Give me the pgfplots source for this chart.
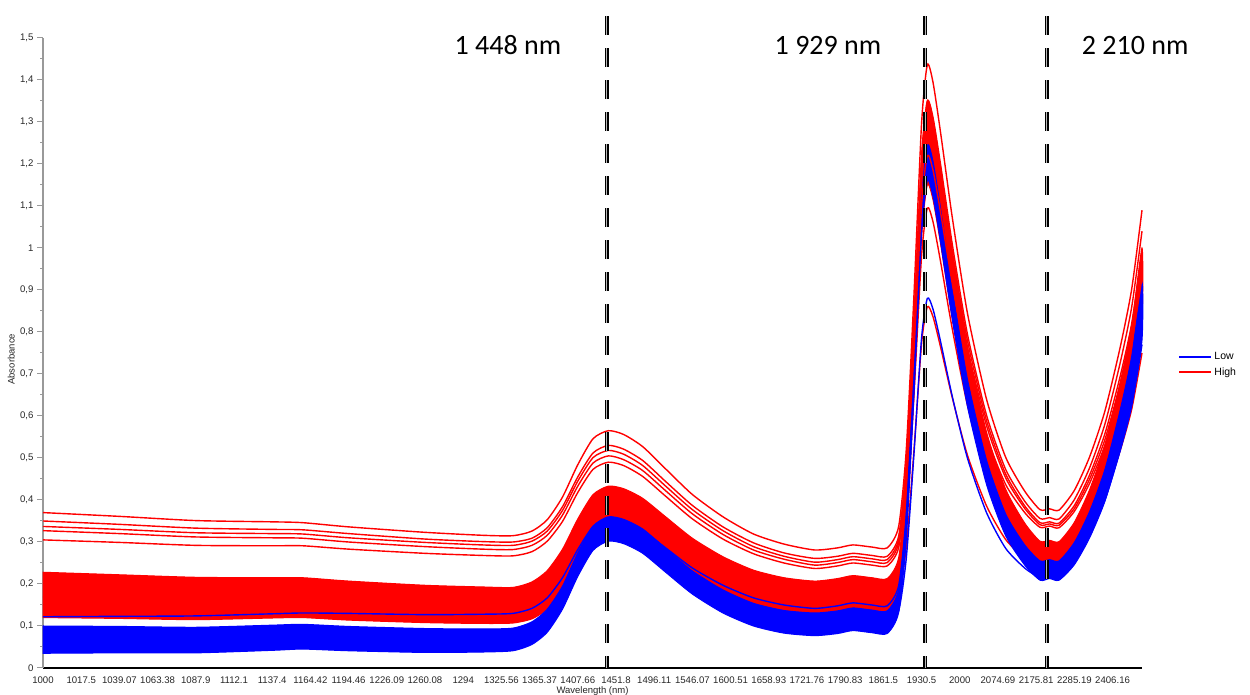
\documentclass[border=0pt]{standalone}
\usepackage{fontspec}
\setmainfont{Liberation Sans}
\newfontfamily\calibri{Carlito}
\usepackage{pgfplots}
\usepackage{pgfplotstable}
\pgfplotsset{compat=1.18}

\pgfplotstableread{
x R1 R2 R3 R4 R5 R6 R7 B1 B2
0 0.370 0.350 0.337 0.327 0.305 0.150 0.170 0.122 0.060
2 0.361 0.342 0.330 0.320 0.299 0.148 0.167 0.123 0.060
4 0.351 0.333 0.322 0.312 0.292 0.145 0.163 0.124 0.060
6 0.348 0.330 0.320 0.310 0.291 0.149 0.166 0.129 0.066
6.8 0.346 0.329 0.319 0.309 0.291 0.150 0.167 0.131 0.068
8 0.336 0.320 0.310 0.300 0.283 0.144 0.161 0.130 0.064
10 0.323 0.307 0.299 0.289 0.273 0.138 0.154 0.127 0.060
11.5 0.316 0.301 0.293 0.283 0.268 0.136 0.151 0.128 0.060
12.3 0.315 0.300 0.292 0.282 0.267 0.137 0.152 0.130 0.063
12.8 0.326 0.309 0.302 0.292 0.277 0.148 0.164 0.142 0.077
13.2 0.353 0.334 0.326 0.316 0.302 0.171 0.189 0.167 0.106
13.6 0.407 0.384 0.375 0.364 0.349 0.217 0.237 0.215 0.160
14.0 0.484 0.455 0.445 0.433 0.418 0.281 0.306 0.282 0.237
14.4 0.546 0.512 0.501 0.488 0.473 0.333 0.362 0.337 0.299
14.8 0.565 0.530 0.518 0.505 0.490 0.350 0.380 0.355 0.320
15.2 0.556 0.521 0.509 0.496 0.482 0.343 0.373 0.349 0.314
15.7 0.527 0.494 0.482 0.470 0.456 0.321 0.350 0.327 0.291
16.3 0.474 0.444 0.433 0.422 0.409 0.280 0.306 0.286 0.246
17.0 0.413 0.387 0.377 0.367 0.355 0.232 0.256 0.238 0.193
17.8 0.360 0.336 0.327 0.318 0.307 0.190 0.212 0.197 0.149
18.6 0.319 0.298 0.289 0.281 0.272 0.159 0.180 0.167 0.117
19.4 0.295 0.274 0.266 0.259 0.250 0.141 0.162 0.150 0.100
20.2 0.281 0.261 0.252 0.245 0.237 0.132 0.152 0.142 0.093
20.8 0.286 0.266 0.258 0.251 0.243 0.138 0.158 0.148 0.098
21.2 0.293 0.273 0.265 0.258 0.250 0.145 0.165 0.155 0.105
21.7 0.288 0.268 0.260 0.253 0.245 0.140 0.160 0.150 0.100
22.1 0.286 0.266 0.258 0.251 0.243 0.138 0.158 0.148 0.098
22.4 0.337 0.314 0.306 0.298 0.287 0.173 0.201 0.196 0.136
22.6 0.521 0.488 0.478 0.466 0.444 0.289 0.352 0.365 0.262
22.8 0.887 0.833 0.818 0.799 0.754 0.517 0.649 0.698 0.509
23.0 1.297 1.219 1.201 1.174 1.102 0.773 0.982 1.073 0.786
23.15 1.436 1.350 1.330 1.300 1.220 0.860 1.095 1.200 0.880
23.3 1.394 1.310 1.291 1.262 1.185 0.836 1.062 1.162 0.854
23.5 1.273 1.197 1.178 1.152 1.083 0.763 0.966 1.053 0.776
23.8 1.075 1.011 0.994 0.972 0.917 0.645 0.809 0.874 0.648
24.2 0.845 0.795 0.780 0.764 0.724 0.507 0.626 0.667 0.500
24.7 0.640 0.602 0.589 0.577 0.552 0.386 0.464 0.482 0.370
25.2 0.502 0.473 0.462 0.453 0.437 0.306 0.357 0.359 0.285
25.7 0.421 0.397 0.386 0.380 0.370 0.262 0.295 0.288 0.238
26.1 0.377 0.356 0.346 0.341 0.335 0.240 0.263 0.250 0.215
26.35 0.379 0.358 0.348 0.343 0.338 0.247 0.268 0.253 0.222
26.6 0.376 0.355 0.345 0.340 0.334 0.243 0.264 0.250 0.218
27.0 0.423 0.401 0.387 0.380 0.373 0.276 0.305 0.291 0.255
27.4 0.503 0.477 0.460 0.450 0.440 0.333 0.374 0.362 0.316
27.8 0.612 0.581 0.558 0.544 0.531 0.410 0.468 0.458 0.400
28.2 0.764 0.727 0.695 0.677 0.658 0.518 0.599 0.592 0.518
28.5 0.902 0.859 0.820 0.796 0.773 0.616 0.718 0.714 0.624
28.77 1.090 1.040 0.990 0.960 0.930 0.750 0.880 0.880 0.770
}\spectra

\begin{document}
\begin{tikzpicture}
\useasboundingbox (0,0) rectangle (1250pt,695pt);
\begin{axis}[
  at={(43pt,27pt)}, anchor=south west,
  scale only axis, width=1099pt, height=630pt,
  xmin=0, xmax=28.77, ymin=0, ymax=1.5,
  clip=false,
  axis x line*=bottom, axis y line*=left,
  x axis line style={black, line width=2.7pt},
  y axis line style={gray!80, line width=1.4pt},
  xtick={0,1,...,28},
  xticklabels={1000,1017.5,1039.07,1063.38,1087.9,1112.1,1137.4,1164.42,1194.46,1226.09,1260.08,1294,1325.56,1365.37,1407.66,1451.8,1496.11,1546.07,1600.51,1658.93,1721.76,1790.83,1861.5,1930.5,2000,2074.69,2175.81,2285.19,2406.16},
  major x tick style={draw=none},
  ytick={0,0.1,0.2,0.3,0.4,0.5,0.6,0.7,0.8,0.9,1,1.1,1.2,1.3,1.4,1.5},
  minor y tick num=1,
  y tick style={gray!80, line width=1pt},
  tick align=outside,
  major tick length=6pt, minor tick length=3pt,
  ticklabel style={font=\fontsize{9.6}{11.5}\selectfont, text=black!85},
  /pgf/number format/assume math mode=true,
  yticklabel style={/pgf/number format/.cd, fixed, precision=1, use comma},
  xticklabel style={yshift=1pt},
  xlabel={Wavelength (nm)}, ylabel={Absorbance},
  label style={font=\fontsize{9.5}{11}\selectfont, text=black!85},
  xlabel style={at={(axis description cs:0.5,-0.037)}, anchor=center},
  ylabel style={at={(axis description cs:-0.029,0.49)}, anchor=center},
  no markers,
  legend style={at={(rel axis cs:1.033,0.504)}, anchor=north west, draw=none, fill=none,
    font=\fontsize{10.5}{12}\selectfont, row sep=2pt, inner sep=0pt},
  legend cell align=left,
  legend image code/.code={\draw[#1] (0pt,0pt) -- (32pt,0pt);},
]
% red band (High)
\addplot[fill=red, draw=red, line width=1pt, smooth, tension=0.4, forget plot] coordinates {
(0,0.228)(2,0.222)(4,0.216)(6,0.215)(6.8,0.215)(8,0.207)(10,0.197)(11.5,0.193)(12.3,0.192)(12.8,0.205)(13.2,0.232)(13.6,0.283)(14,0.355)(14.4,0.413)(14.8,0.433)(15.2,0.427)(15.7,0.404)(16.3,0.360)(17,0.309)(17.8,0.265)(18.6,0.233)(19.4,0.215)(20.2,0.207)(20.8,0.213)(21.2,0.220)(21.7,0.215)(22.1,0.213)(22.4,0.263)(22.6,0.446)(22.8,0.807)(23,1.213)(23.15,1.350)(23.3,1.308)(23.5,1.189)(23.8,0.993)(24.2,0.765)(24.7,0.562)(25.2,0.426)(25.7,0.345)(26.1,0.302)(26.35,0.304)(26.6,0.301)(27,0.347)(27.4,0.425)(27.8,0.531)(28.2,0.681)(28.5,0.815)(28.77,1.000)
(28.77,0.840)(28.5,0.681)(28.2,0.565)(27.8,0.436)(27.4,0.344)(27,0.277)(26.6,0.237)(26.35,0.241)(26.1,0.236)(25.7,0.270)(25.2,0.337)(24.7,0.455)(24.2,0.633)(23.8,0.834)(23.5,1.008)(23.3,1.114)(23.15,1.150)(23,1.024)(22.8,0.654)(22.6,0.325)(22.4,0.157)(22.1,0.108)(21.7,0.110)(21.2,0.115)(20.8,0.108)(20.2,0.102)(19.4,0.111)(18.6,0.128)(17.8,0.157)(17,0.197)(16.3,0.243)(15.7,0.283)(15.2,0.304)(14.8,0.310)(14.4,0.294)(14,0.244)(13.6,0.183)(13.2,0.140)(12.8,0.117)(12.3,0.107)(11.5,0.106)(10,0.108)(8,0.114)(6.8,0.120)(6,0.119)(4,0.115)(2,0.118)(0,0.120)
} -- cycle;
\addplot[red, line width=1.4pt, smooth, tension=0.4, forget plot] table[x=x, y=R6] {\spectra};
\addplot[red, line width=1.4pt, smooth, tension=0.4, forget plot] table[x=x, y=R7] {\spectra};
% blue band (Low)
\addplot[fill=blue, draw=blue, line width=1pt, smooth, tension=0.4, forget plot] coordinates {
(0,0.100)(2,0.099)(4,0.097)(6,0.102)(6.8,0.104)(8,0.099)(10,0.094)(11.5,0.093)(12.3,0.095)(12.8,0.110)(13.2,0.140)(13.6,0.195)(14,0.274)(14.4,0.338)(14.8,0.360)(15.2,0.354)(15.7,0.331)(16.3,0.285)(17,0.231)(17.8,0.186)(18.6,0.154)(19.4,0.137)(20.2,0.131)(20.8,0.136)(21.2,0.143)(21.7,0.138)(22.1,0.136)(22.4,0.187)(22.6,0.365)(22.8,0.717)(23,1.111)(23.15,1.245)(23.3,1.206)(23.5,1.092)(23.8,0.905)(24.2,0.688)(24.7,0.495)(25.2,0.367)(25.7,0.293)(26.1,0.255)(26.35,0.258)(26.6,0.255)(27,0.299)(27.4,0.373)(27.8,0.473)(28.2,0.615)(28.5,0.742)(28.77,0.917)
(28.77,0.780)(28.5,0.629)(28.2,0.519)(27.8,0.397)(27.4,0.310)(27,0.246)(26.6,0.209)(26.35,0.213)(26.1,0.209)(25.7,0.245)(25.2,0.315)(24.7,0.437)(24.2,0.623)(23.8,0.832)(23.5,1.012)(23.3,1.122)(23.15,1.160)(23,1.030)(22.8,0.647)(22.6,0.306)(22.4,0.132)(22.1,0.082)(21.7,0.084)(21.2,0.089)(20.8,0.082)(20.2,0.077)(19.4,0.083)(18.6,0.100)(17.8,0.131)(17,0.176)(16.3,0.228)(15.7,0.273)(15.2,0.296)(14.8,0.302)(14.4,0.280)(14,0.218)(13.6,0.140)(13.2,0.085)(12.8,0.056)(12.3,0.041)(11.5,0.038)(10,0.037)(8,0.041)(6.8,0.045)(6,0.042)(4,0.036)(2,0.036)(0,0.035)
} -- cycle;
\addplot[blue, line width=1.4pt, smooth, tension=0.4, forget plot] table[x=x, y=B1] {\spectra};
\addplot[blue, line width=1.4pt, smooth, tension=0.4, forget plot] table[x=x, y=B2] {\spectra};
% upper red spectra
\addplot[red, line width=1.4pt, smooth, tension=0.4, forget plot] table[x=x, y=R5] {\spectra};
\addplot[red, line width=1.4pt, smooth, tension=0.4, forget plot] table[x=x, y=R4] {\spectra};
\addplot[red, line width=1.4pt, smooth, tension=0.4, forget plot] table[x=x, y=R3] {\spectra};
\addplot[red, line width=1.4pt, smooth, tension=0.4, forget plot] table[x=x, y=R2] {\spectra};
\addplot[red, line width=1.4pt, smooth, tension=0.4, forget plot] table[x=x, y=R1] {\spectra};
% marker lines
\addplot[draw=black, double=gray!55, double distance=0.8pt, line width=1.6pt, dash pattern=on 19pt off 13pt, forget plot] coordinates {(14.76,1.552) (14.76,0)};
\addplot[draw=black, double=gray!55, double distance=0.8pt, line width=1.6pt, dash pattern=on 19pt off 13pt, forget plot] coordinates {(23.09,1.552) (23.09,0)};
\addplot[draw=black, double=gray!55, double distance=0.8pt, line width=1.6pt, dash pattern=on 19pt off 13pt, forget plot] coordinates {(26.28,1.552) (26.28,0)};
\node[font=\calibri\fontsize{28}{30}\selectfont] at (axis cs:12.17,1.483) {1 448 nm};
\node[font=\calibri\fontsize{28}{30}\selectfont] at (axis cs:20.55,1.483) {1 929 nm};
\node[font=\calibri\fontsize{28}{30}\selectfont] at (axis cs:28.59,1.483) {2 210 nm};
\addlegendimage{blue, line width=2pt}
\addlegendentry{Low}
\addlegendimage{red, line width=2pt}
\addlegendentry{High}
\end{axis}
\end{tikzpicture}
\end{document}
